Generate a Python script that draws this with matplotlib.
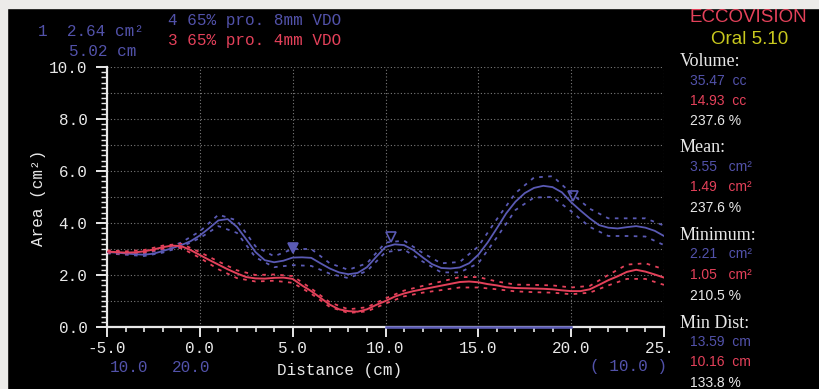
import matplotlib
matplotlib.use("Agg")
import matplotlib.pyplot as plt
from matplotlib.patches import Rectangle
import numpy as np

# ---------------- data ----------------
dist = [-5.0, -4.5, -4.0, -3.5, -3.0, -2.5, -2.0, -1.5, -1.0, -0.5,
        0.0, 0.5, 1.0, 1.5, 2.0, 2.5, 3.0, 3.5, 4.0, 4.5,
        5.0, 5.5, 6.0, 6.5, 7.0, 7.5, 8.0, 8.5, 9.0, 9.5,
        10.0, 10.5, 11.0, 11.5, 12.0, 12.5, 13.0, 13.5, 14.0, 14.5,
        15.0, 15.5, 16.0, 16.5, 17.0, 17.5, 18.0, 18.5, 19.0, 19.5,
        20.0, 20.5, 21.0, 21.5, 22.0, 22.5, 23.0, 23.5, 24.0, 24.5, 25.0]

blue_mean = [2.88, 2.86, 2.83, 2.80, 2.78, 2.82, 2.92, 3.03, 3.15, 3.30,
             3.52, 3.80, 4.10, 4.15, 3.85, 3.37, 2.88, 2.57, 2.49, 2.55,
             2.67, 2.68, 2.66, 2.45, 2.25, 2.10, 2.03, 2.08, 2.30, 2.70,
             3.08, 3.18, 3.15, 2.96, 2.68, 2.42, 2.27, 2.25, 2.29, 2.45,
             2.78, 3.25, 3.80, 4.37, 4.82, 5.15, 5.35, 5.43, 5.38, 5.18,
             4.80, 4.48, 4.18, 3.92, 3.82, 3.79, 3.84, 3.88, 3.82, 3.70, 3.50]

red_mean = [2.90, 2.88, 2.86, 2.87, 2.91, 2.98, 3.07, 3.13, 3.11, 2.96,
            2.77, 2.58, 2.40, 2.22, 2.06, 1.92, 1.87, 1.86, 1.89, 1.90,
            1.85, 1.60, 1.38, 1.12, 0.86, 0.68, 0.61, 0.59, 0.68, 0.85,
            1.00, 1.17, 1.29, 1.38, 1.45, 1.52, 1.59, 1.66, 1.73, 1.75,
            1.72, 1.65, 1.60, 1.53, 1.50, 1.49, 1.48, 1.47, 1.45, 1.41,
            1.38, 1.38, 1.45, 1.62, 1.80, 1.95, 2.12, 2.20, 2.13, 2.02, 1.90]

band_dist = [-5, -4, -3, -2, -1, 0, 1, 2, 3, 4, 5, 6, 7, 8, 9, 10,
             11, 12, 13, 14, 15, 16, 17, 18, 19, 20, 21, 22, 23, 24, 25]

blue_upper = [2.93, 2.88, 2.83, 2.98, 3.25, 3.68, 4.32, 4.10, 3.10, 2.72,
              3.00, 3.00, 2.45, 2.20, 2.45, 3.25, 3.32, 2.85, 2.45, 2.50,
              3.10, 4.15, 5.15, 5.75, 5.80, 5.15, 4.55, 4.18, 4.18, 4.18, 3.90]
blue_lower = [2.83, 2.78, 2.73, 2.86, 3.08, 3.42, 3.88, 3.62, 2.68, 2.30,
              2.38, 2.35, 2.05, 1.88, 2.15, 2.88, 2.98, 2.52, 2.10, 2.10,
              2.45, 3.45, 4.50, 4.98, 5.00, 4.45, 3.85, 3.50, 3.50, 3.48, 3.15]
red_upper = [2.95, 2.91, 2.96, 3.13, 3.20, 2.88, 2.52, 2.18, 2.00, 2.02,
             1.96, 1.48, 0.95, 0.68, 0.76, 1.10, 1.40, 1.58, 1.75, 1.92,
             1.92, 1.75, 1.63, 1.62, 1.60, 1.52, 1.58, 2.00, 2.40, 2.45, 2.22]
red_lower = [2.85, 2.81, 2.86, 3.01, 3.04, 2.66, 2.22, 1.88, 1.75, 1.78,
             1.70, 1.28, 0.77, 0.54, 0.60, 0.90, 1.18, 1.32, 1.42, 1.52,
             1.52, 1.45, 1.37, 1.34, 1.32, 1.26, 1.32, 1.60, 1.85, 1.85, 1.62]

marker_x = [5.0, 10.3, 20.1]
marker_y = [3.05, 3.45, 5.05]
marker_filled = [True, False, False]

range_start, range_end = 10.0, 20.0

xticks = [-5, 0, 5, 10, 15, 20, 25]
xticklabels = ["-5.0", "0.0", "5.0", "10.0", "15.0", "20.0", "25. "]
yticks = [0, 2, 4, 6, 8, 10]
yticklabels = ["0.0", "2.0", "4.0", "6.0", "8.0", "10.0"]

# ---------------- style ----------------
BLUE = "#5a5ab4"
BLUE_T = "#5252aa"
RED = "#e4415a"
WHITE = "#e8e8e8"
YEL = "#c8c81e"
MONO = "Liberation Mono"
W, H = 819, 389

fig = plt.figure(figsize=(W / 100, H / 100), dpi=100, facecolor="black")
fig.add_artist(Rectangle((0, 1 - 8 / H), 1, 8 / H, transform=fig.transFigure,
                         color="#ecebe9", zorder=0))
fig.add_artist(Rectangle((0, 0), 7 / W, 1, transform=fig.transFigure,
                         color="#ecebe9", zorder=0))


def fp(x, y):
    return x / W, 1 - y / H


x0, x1, y0, y1 = 107, 664, 67, 327
ax = fig.add_axes([x0 / W, 1 - y1 / H, (x1 - x0) / W, (y1 - y0) / H])
ax.set_facecolor("black")
ax.set_xlim(-5, 25)
ax.set_ylim(0, 10)

# grid
for gy in range(1, 11):
    ax.axhline(gy, color="#7a7a7a", lw=0.8, ls=(0, (1, 2)), zorder=1)
for gx in [0, 5, 10, 15, 20, 25]:
    ax.axvline(gx, color="#7a7a7a", lw=0.8, ls=(0, (1, 2)), zorder=1)

# bands
for up, lo, c in [(blue_upper, blue_lower, BLUE), (red_upper, red_lower, RED)]:
    ax.plot(band_dist, up, color=c, lw=1.3, ls=(0, (2, 3)), zorder=2)
    ax.plot(band_dist, lo, color=c, lw=1.3, ls=(0, (2, 3)), zorder=2)

ax.plot(dist, blue_mean, color=BLUE, lw=1.3, zorder=3)
ax.plot(dist, red_mean, color=RED, lw=1.4, zorder=3)

for mx, my, filled in zip(marker_x, marker_y, marker_filled):
    ax.plot([mx], [my], marker="v", ms=7, mew=1.2, mec=BLUE,
            mfc=BLUE if filled else "none", ls="none", zorder=4)

# spines/ticks
for s in ["top", "right"]:
    ax.spines[s].set_visible(False)
for s in ["left", "bottom"]:
    ax.spines[s].set_color(WHITE)
    ax.spines[s].set_linewidth(1.6)
ax.plot([range_start, range_end], [0, 0], color=BLUE, lw=1.8,
        clip_on=False, zorder=5)

ax.set_xticks(xticks)
ax.set_xticklabels(xticklabels, family=MONO, fontsize=11.5, color=WHITE)
ax.set_xticks(np.arange(-5, 26, 1), minor=True)
ax.set_yticks(yticks)
ax.set_yticklabels(yticklabels, family=MONO, fontsize=11.5, color=WHITE)
ax.set_yticks(np.arange(0, 10.01, 0.2), minor=True)
ax.tick_params(axis="x", which="major", direction="out", length=7, width=1.4,
               color=WHITE, pad=3)
ax.tick_params(axis="x", which="minor", direction="out", length=3.5, width=1.2,
               color=WHITE)
ax.tick_params(axis="y", which="major", direction="out", length=8, width=1.4,
               color=WHITE, pad=6)
ax.tick_params(axis="y", which="minor", direction="out", length=4, width=1.0,
               color=WHITE)

# axis labels
fig.text(*fp(340, 370), "Distance (cm)", family=MONO, fontsize=11.5,
         color=WHITE, ha="center", va="center")
fig.text(*fp(39, 198), "Area (cm²)", family=MONO, fontsize=11.5,
         color=WHITE, ha="center", va="center", rotation=90)

# range labels
fig.text(*fp(110, 367), "10.0", family=MONO, fontsize=11.5, color=BLUE_T,
         ha="left", va="center")
fig.text(*fp(172, 367), "20.0", family=MONO, fontsize=11.5, color=BLUE_T,
         ha="left", va="center")
fig.text(*fp(590, 367), "( 10.0 )", family=MONO, fontsize=11.5, color=BLUE_T,
         ha="left", va="center")

# top-left info
fig.text(*fp(38, 31), "1  2.64 cm²", family=MONO, fontsize=11.5,
         color=BLUE_T, ha="left", va="center")
fig.text(*fp(69, 52), "5.02 cm", family=MONO, fontsize=11.5,
         color=BLUE_T, ha="left", va="center")
fig.text(*fp(168, 20), "4 65% pro. 8mm VDO", family=MONO, fontsize=11.5,
         color=BLUE_T, ha="left", va="center")
fig.text(*fp(168, 40), "3 65% pro. 4mm VDO", family=MONO, fontsize=11.5,
         color=RED, ha="left", va="center")

# right panel
SANS = "Liberation Sans"
SERIF = "Liberation Serif"
fig.text(*fp(748, 18), "ECCOVISION", family=SANS, fontsize=13.5, color=RED,
         ha="center", va="center")
fig.text(*fp(750, 40), "Oral 5.10", family=SANS, fontsize=13.5, color=YEL,
         ha="center", va="center")

rows = [
    ("Volume:", 62, WHITE, "serif"),
    ("35.47  cc", 81, BLUE_T, "num"),
    ("14.93  cc", 101, RED, "num"),
    ("237.6 %", 121, WHITE, "num"),
    ("Mean:", 147, WHITE, "serif"),
    ("3.55   cm²", 167, BLUE_T, "num"),
    ("1.49   cm²", 187, RED, "num"),
    ("237.6 %", 208, WHITE, "num"),
    ("Minimum:", 235, WHITE, "serif"),
    ("2.21   cm²", 254, BLUE_T, "num"),
    ("1.05   cm²", 275, RED, "num"),
    ("210.5 %", 296, WHITE, "num"),
    ("Min Dist:", 323, WHITE, "serif"),
    ("13.59  cm", 342, BLUE_T, "num"),
    ("10.16  cm", 362, RED, "num"),
    ("133.8 %", 383, WHITE, "num"),
]
for txt, yy, col, kind in rows:
    if kind == "serif":
        fig.text(*fp(680, yy), txt, family=SERIF, fontsize=13, color=col,
                 ha="left", va="center")
    else:
        fig.text(*fp(690, yy), txt, family=SANS, fontsize=10, color=col,
                 ha="left", va="center")

fig.savefig("out.png", dpi=100, facecolor="black")
